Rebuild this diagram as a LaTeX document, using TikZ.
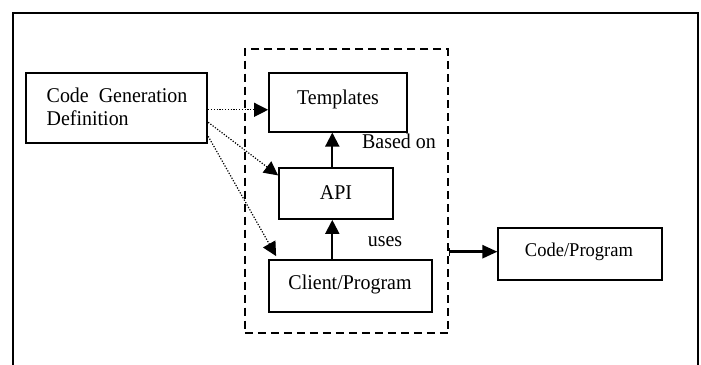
\documentclass[tikz,border=0pt]{standalone}
\usepackage{fontspec}
\setmainfont{Liberation Serif}[FakeStretch=0.95]
\usetikzlibrary{arrows.meta}
\begin{document}
\begin{tikzpicture}[x=1pt,y=-1pt,
  box/.style={draw=black, line width=1.8pt, rectangle, inner sep=0pt},
  lbl/.style={anchor=base, inner sep=0pt, font=\fontsize{21}{25}\selectfont},
  solidarrow/.style={line width=2pt, -{Triangle[length=14pt,width=14pt]}},
  dotarrow/.style={line width=1.2pt, dash pattern=on 1.2pt off 1.6pt, -{Triangle[length=14pt,width=14pt]}},
  grpbox/.style={draw=black, line width=2pt, dash pattern=on 8pt off 5pt, rectangle, inner sep=0pt}]
\useasboundingbox (0,0) rectangle (701,364);
% outer frame
\draw[line width=1.8pt] (13,370) -- (13,12.7) -- (698.3,12.7) -- (698.3,370);
% dashed group
\node[grpbox, minimum width=203.3pt, minimum height=284pt] (grp) at (346.5,191.3) {};
% boxes
\node[box, minimum width=181.6pt, minimum height=70pt] (cgd) at (116.5,108.3) {};
\node[box, minimum width=137.7pt, minimum height=58.4pt] (tpl) at (337.85,102.5) {};
\node[box, minimum width=114.3pt, minimum height=50.7pt] (api) at (336.15,193.65) {};
\node[box, minimum width=162.7pt, minimum height=51.7pt] (cli) at (350.35,285.85) {};
\node[box, minimum width=163.4pt, minimum height=52pt] (cp) at (580,254) {};
% texts
\node[lbl, anchor=base west] (cgdt1) at (46.5,102.3) {Code\hspace{10pt}Generation};
\node[lbl, anchor=base west] (cgdt2) at (46.5,125.7) {Definition};
\node[lbl] (tplt) at (338,104) {Templates};
\node[lbl] (apit) at (336,199.3) {API};
\node[lbl] (clit) at (350,289.5) {Client/Program};
\node[lbl, font=\fontsize{19.5}{23}\selectfont] (cpt) at (579,256.5) {Code/Program};
\node[lbl] (based) at (399,148.3) {Based on};
\node[lbl] (uses) at (385,246.7) {uses};
% vertical arrows
\coordinate (vx) at (332.3,0);
\draw[solidarrow] (cli.north -| vx) -- (api.south -| vx);
\draw[solidarrow] (api.north -| vx) -- (tpl.south -| vx);
% dotted arrows
\draw[dotarrow] ([yshift=-1.5pt]cgd.east) -- ([yshift=-1.5pt]cgd.east -| tpl.west);
\draw[dotarrow] ([yshift=-14pt]cgd.east) -- ([yshift=-8pt]api.north west);
\draw[dotarrow] ([yshift=-28pt]cgd.east) -- ([xshift=8pt,yshift=3pt]cli.north west);
% output arrow
\draw[line width=2.5pt, {Bar[width=8pt,line width=1.2pt]}-{Triangle[length=15pt,width=13pt]}] ([yshift=2.3pt]grp.east |- cp.west) -- ([yshift=2.3pt]cp.west);
\end{tikzpicture}
\end{document}
